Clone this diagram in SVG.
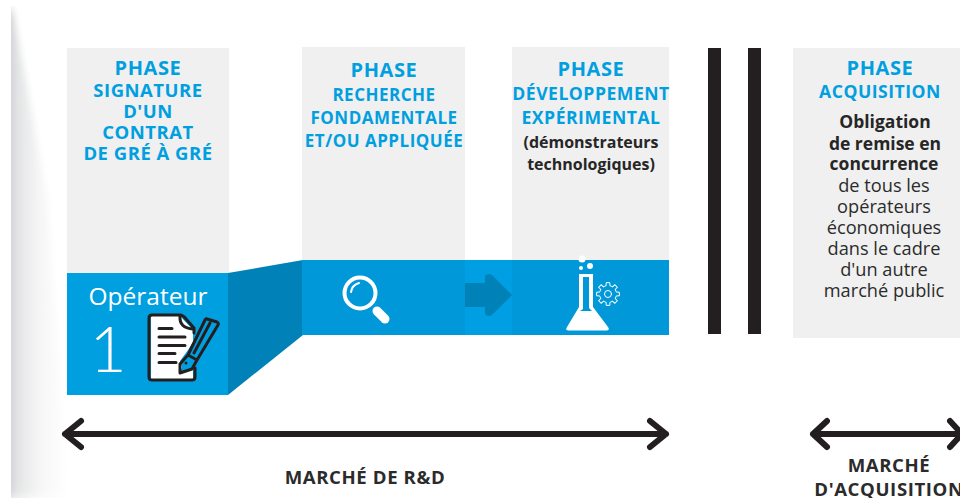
<svg xmlns="http://www.w3.org/2000/svg" width="960" height="498" viewBox="0 0 960 498">
<style>
text{font-family:"Open Sans","Liberation Sans",sans-serif;text-anchor:middle}
.p{font-weight:700;fill:#009fe0;font-size:20px;letter-spacing:.6px}
.s{font-weight:700;fill:#009fe0;font-size:17px;letter-spacing:.5px}
.s1{font-size:18.500px}
.s2{font-size:17.600px}
.b{font-weight:700;fill:#262626;font-size:17.500px}
.d{font-weight:700;fill:#262626;font-size:16px}
.r{fill:#2b2b2b;font-size:18.200px}
.m{font-weight:700;fill:#2b2b2b;font-size:18.600px;letter-spacing:.6px}
.card{fill:#f0f0f0}
.ar{fill:none;stroke:#231f20;stroke-width:6;stroke-linecap:round;stroke-linejoin:round}
.ic{fill:none;stroke:#231f20;stroke-width:3;stroke-linejoin:round;stroke-linecap:round}
.w{fill:none;stroke:#fff;stroke-linecap:round}
</style>
<defs>
<linearGradient id="sh" x1="0" x2="1" y1="0" y2="0">
<stop offset="0" stop-color="#c4c6c8"/><stop offset=".18" stop-color="#e2e3e4"/><stop offset=".55" stop-color="#f6f6f6"/><stop offset="1" stop-color="#fff"/>
</linearGradient>
<filter id="blur" x="-100%" y="-5%" width="300%" height="110%"><feGaussianBlur stdDeviation="3 6"/></filter>
<clipPath id="clipShadow"><rect x="11" y="6" width="80" height="492"/></clipPath>
<path id="tooth" d="M7.850-3.250 8.280-1.910 11.360-1.800V1.800L8.280 1.910 7.850 3.250" fill="none" stroke="#fff" stroke-width="1"/>
</defs>
<rect width="960" height="498" fill="#fff"/>
<g clip-path="url(#clipShadow)">
<polygon points="5,10 13,10 48,200 68,498 5,498" fill="url(#sh)" filter="url(#blur)"/>
</g>

<g id="phase-signature">
<rect class="card" x="67" y="48" width="162" height="226"/>
<text class="p" x="148" y="75">PHASE</text>
<text class="s s1" x="148" y="97">SIGNATURE</text>
<text class="s s1" x="148" y="118">D'UN</text>
<text class="s s1" x="148" y="139">CONTRAT</text>
<text class="s s1" x="148" y="160">DE GRÉ À GRÉ</text>
</g>
<g id="phase-recherche">
<rect class="card" x="302" y="47" width="163" height="214"/>
<text class="p" x="384" y="77">PHASE</text>
<text class="s" x="384" y="101">RECHERCHE</text>
<text class="s" x="384" y="124">FONDAMENTALE</text>
<text class="s" x="384" y="147">ET/OU APPLIQUÉE</text>
</g>
<g id="phase-developpement">
<rect class="card" x="512" y="47" width="157" height="214"/>
<text class="p" x="591" y="76">PHASE</text>
<text class="s s2" x="591" y="100">DÉVELOPPEMENT</text>
<text class="s s2" x="591" y="124">EXPÉRIMENTAL</text>
<text class="d" x="591" y="148">(démonstrateurs</text>
<text class="d" x="591" y="170">technologiques)</text>
</g>
<g id="phase-acquisition">
<rect class="card" x="793" y="48" width="167" height="290"/>
<text class="p" x="880" y="75">PHASE</text>
<text class="s s2" x="880" y="98">ACQUISITION</text>
<text class="b" x="885" y="128">Obligation</text>
<text class="b" x="885" y="150">de remise en</text>
<text class="b" x="884" y="170">concurrence</text>
<text class="r" x="884" y="192">de tous les</text>
<text class="r" x="884" y="213">opérateurs</text>
<text class="r" x="884" y="234">économiques</text>
<text class="r" x="884" y="255">dans le cadre</text>
<text class="r" x="884" y="276">d'un autre</text>
<text class="r" x="884" y="297">marché public</text>
</g>
<g id="separators">
<rect x="708" y="48" width="13" height="286" fill="#231f20"/>
<rect x="748" y="48" width="13" height="286" fill="#231f20"/>
</g>

<g id="operateur">
<polygon points="228,273 303,260 303,335 228,395" fill="#0081b8"/>
<rect x="67" y="273" width="161" height="122" fill="#009fe0"/>
<text x="148" y="305" fill="#fff" font-size="24.500">Opérateur</text>
<text x="108" y="372" fill="#fff" font-size="64" font-weight="300" style="font-family:Lato,'Open Sans',sans-serif">1</text>
<path d="M151 316H180L193 330V380H151Z" fill="#fff"/>
<path class="ic" d="M180 315H152Q149 315 149 318V377Q149 380 152 380H192Q195 380 195 377V368M180 315Q183 315 186 319L194 328V333M180 316Q179 328 193 329"/>
<path class="ic" d="M159 328.500H172M159 337H185M159 345.500H185M159 353.500H175M159 362.500H176"/>
<path d="M182 367 180 373 192 368 197 355 214 326 216 320 210 318 206 321 188 350 180 361Z" fill="#009fe0"/>
<path class="ic" d="M207 319 217 322Q219 323 218 325L197 360 188 355 205 320Q206 318 207 319ZM188 355 180 364 180 373 192 369 197 360M210 323 194 353"/>
<circle cx="186" cy="363" r="1.500" fill="#231f20"/>
</g>

<g id="bandeau">
<rect x="302" y="260" width="367" height="75" fill="#0098d8"/>
<rect x="465" y="260" width="47" height="75" fill="#009fe3"/>
<path d="M465 283H485V277Q485 274 489 274Q491 274 493 276L512 295 493 314Q491 316 489 316 485 316 485 312V307H465Z" fill="#0081b8"/>
</g>
<g id="icone-loupe">
<circle cx="360" cy="293" r="15.500" class="w" stroke-width="4"/>
<path class="w" stroke-width="2" d="M351 292Q352 285 359 283"/>
<path class="w" stroke-width="9" d="M377 311 385 319"/>
</g>
<g id="icone-fiole">
<path fill="#fff" fill-rule="evenodd" d="M579 274H593V307L608 327Q610 330 607 330.500H568Q565 330 567 327L579 307ZM583 277V309L580 311H592L589 308V277Z"/>
<circle cx="582" cy="259" r="3.500" fill="#fff"/>
<circle cx="581" cy="268" r="2" fill="#fff"/>
<circle cx="590" cy="266" r="3" fill="#fff"/>
<circle cx="608" cy="294" r="3.500" class="w" stroke-width="1"/>
<g transform="translate(608 294)">
<use href="#tooth"/><use href="#tooth" transform="rotate(45)"/><use href="#tooth" transform="rotate(90)"/><use href="#tooth" transform="rotate(135)"/><use href="#tooth" transform="rotate(180)"/><use href="#tooth" transform="rotate(225)"/><use href="#tooth" transform="rotate(270)"/><use href="#tooth" transform="rotate(315)"/>
</g>
</g>

<g id="connecteurs">
<path class="ar" d="M65 434H666M81 421 65 434 81 447M650 421 666 434 650 447"/>
<path class="ar" d="M813 434H960M827 421 813 434 827 447M950 421 962 434 950 447"/>
</g>
<g id="marches">
<text class="m" x="365" y="484">MARCHÉ DE R&amp;D</text>
<text class="m" x="889" y="472">MARCHÉ</text>
<text class="m" x="889" y="496">D'ACQUISITION</text>
</g>
</svg>
